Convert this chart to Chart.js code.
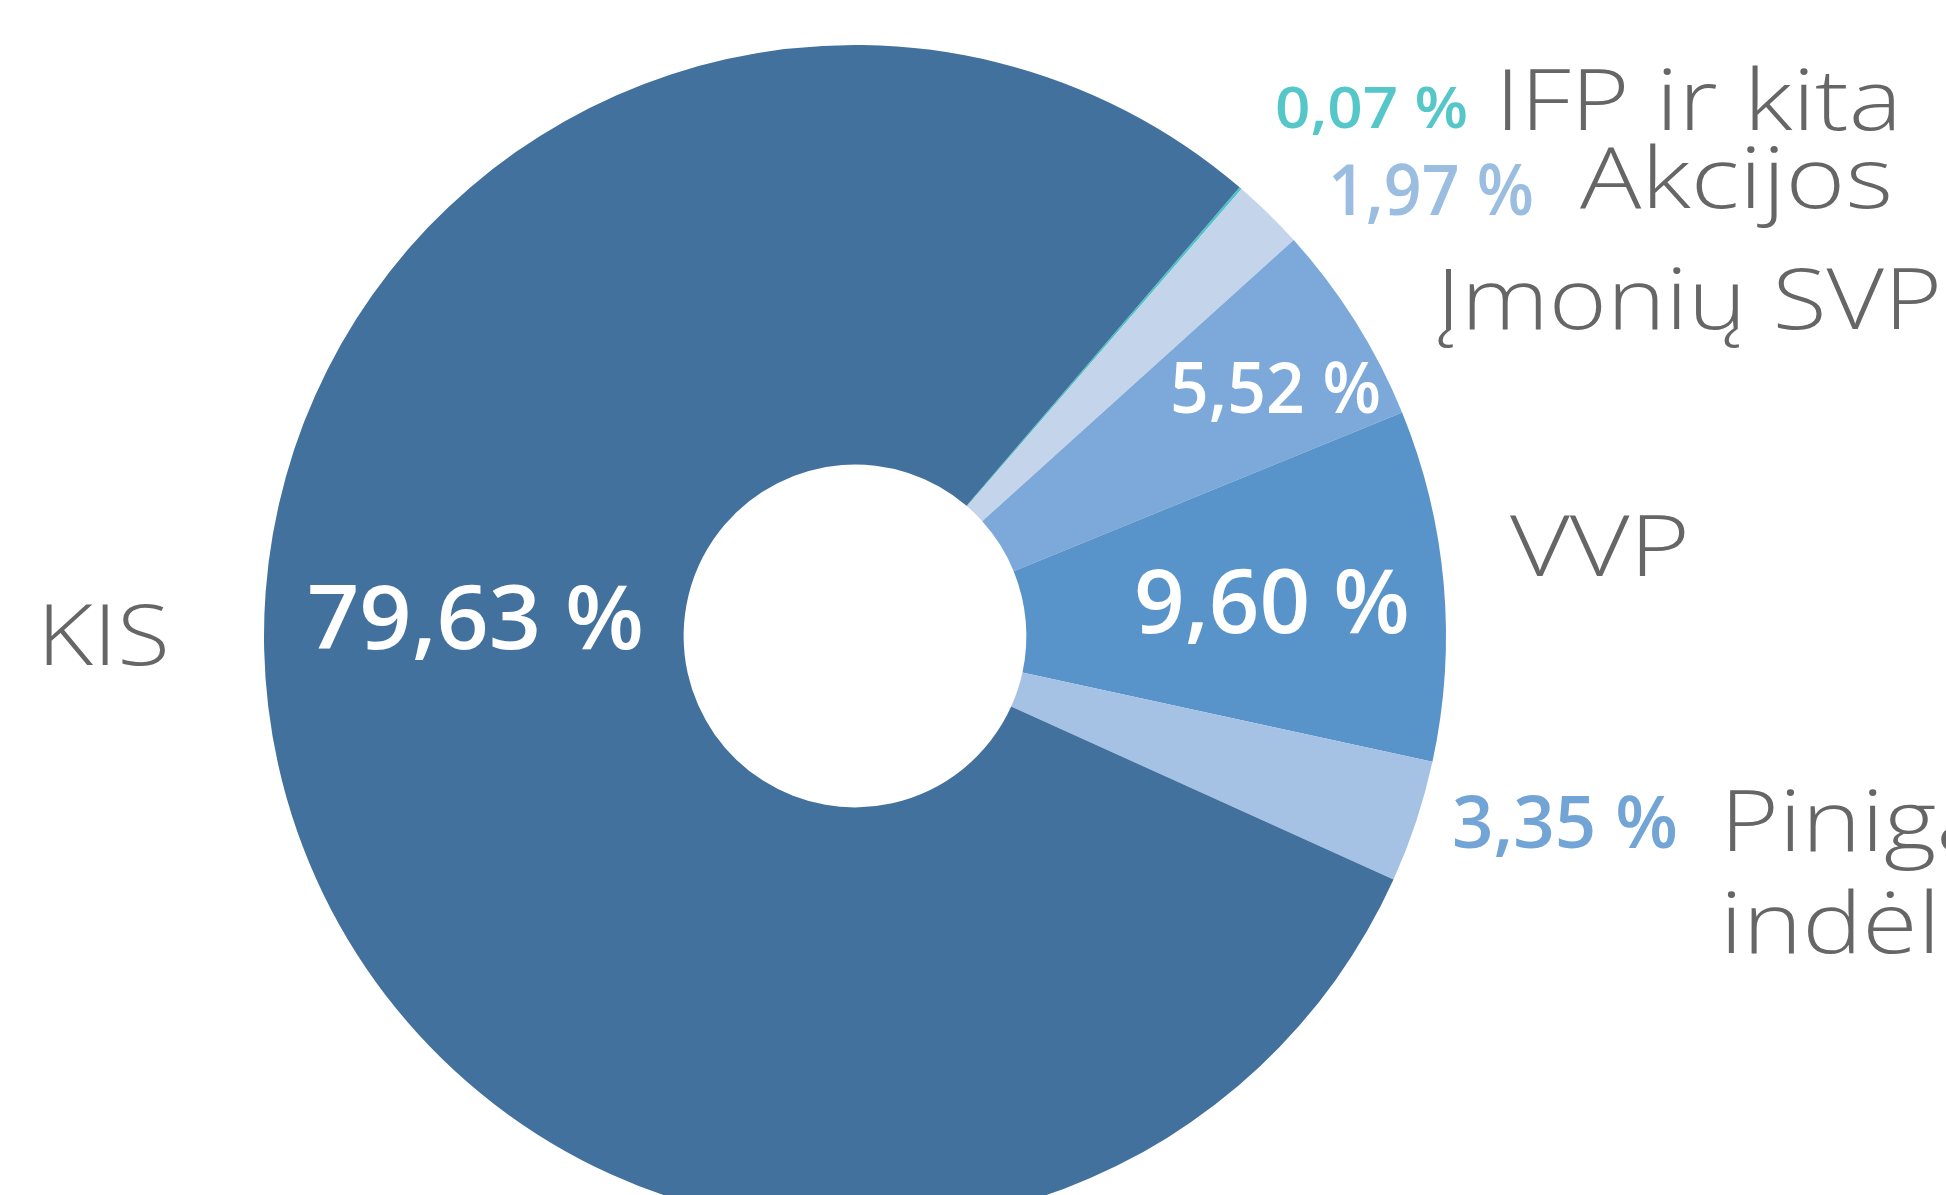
<!DOCTYPE html>
<html>
<head>
<meta charset="utf-8">
<script src="https://cdn.jsdelivr.net/npm/chart.js@4/dist/chart.umd.min.js"></script>
<style>
  html, body { margin: 0; padding: 0; background: #fff; overflow: hidden; }
  #wrap { width: 1946px; height: 1300px; }
</style>
</head>
<body>
<div id="wrap"><canvas id="chart" width="1946" height="1300"></canvas></div>
<script>
// Data (clockwise from the top-right)
const labels = ['IFP ir kita', 'Akcijos', 'Įmonių SVP', 'VVP', 'Pinigai ir indėliai', 'KIS'];
const nameLines = [['IFP ir kita'], ['Akcijos'], ['Įmonių SVP'], ['VVP'], ['Pinigai ir', 'indėliai'], ['KIS']];
const shares = [0.07, 1.97, 5.52, 9.60, 3.35, 79.63];
const colors = ['#4ec5c8', '#c4d4ea', '#7ca9d9', '#5894ca', '#a5c1e4', '#43719e'];

// Label layout: value text and name text (left x, baseline y, size, target width)
const valueLayout = [
  { x: 1275, y: 128, size: 58, w: 193, color: '#56c7c9' },
  { x: 1328, y: 215, size: 70, w: 206, color: '#9bbde0' },
  { x: 1170, y: 413, size: 70, w: 211, color: '#ffffff' },
  { x: 1134, y: 633, size: 88, w: 276, color: '#ffffff' },
  { x: 1452, y: 848, size: 72, w: 226, color: '#72a5d6' },
  { x: 307, y: 649, size: 88, w: 337, color: '#ffffff' }
];
const nameLayout = [
  { x: 1495, y: 130, size: 84, w: 407 },
  { x: 1580, y: 208, size: 84, w: 313 },
  { x: 1436, y: 329, size: 84, w: 506 },
  { x: 1510, y: 576, size: 84, w: 180 },
  { x: 1720, y: 851, size: 84, lh: 102, sx: 1.2 },
  { x: 37, y: 665, size: 84, w: 133 }
];

function fmt(v) {
  return v.toFixed(2).replace('.', ',') + ' %';
}

// stretch text horizontally to the width it takes in the original
function fitText(ctx, text, x, y, w, sx) {
  const m = ctx.measureText(text).width;
  const k = w ? w / m : (sx || 1);
  ctx.save();
  ctx.translate(x, y);
  ctx.scale(k, 1);
  ctx.fillText(text, 0, 0);
  ctx.restore();
}

const labelPlugin = {
  id: 'labelPlugin',
  afterDraw(chart) {
    const ctx = chart.ctx;
    ctx.save();
    ctx.textAlign = 'left';
    ctx.textBaseline = 'alphabetic';
    shares.forEach((v, i) => {
      const vl = valueLayout[i];
      ctx.font = '600 ' + vl.size + 'px "Open Sans"';
      ctx.fillStyle = vl.color;
      fitText(ctx, fmt(v), vl.x, vl.y, vl.w);
      const nl = nameLayout[i];
      ctx.font = '300 ' + nl.size + 'px "Open Sans"';
      ctx.fillStyle = '#666666';
      nameLines[i].forEach((line, j) => {
        fitText(ctx, line, nl.x, nl.y + j * (nl.lh || 0), nameLines[i].length > 1 ? null : nl.w, nl.sx);
      });
    });
    ctx.restore();
  }
};

new Chart(document.getElementById('chart'), {
  type: 'doughnut',
  data: {
    labels: labels,
    datasets: [{
      data: shares,
      backgroundColor: colors,
      borderWidth: 0
    }]
  },
  options: {
    responsive: false,
    animation: false,
    rotation: 40.6,
    cutout: '29%',
    layout: { padding: { left: 264, right: 500, top: 45, bottom: 73 } },
    plugins: {
      legend: { display: false },
      tooltip: { enabled: false }
    }
  },
  plugins: [labelPlugin]
});
</script>
</body>
</html>
